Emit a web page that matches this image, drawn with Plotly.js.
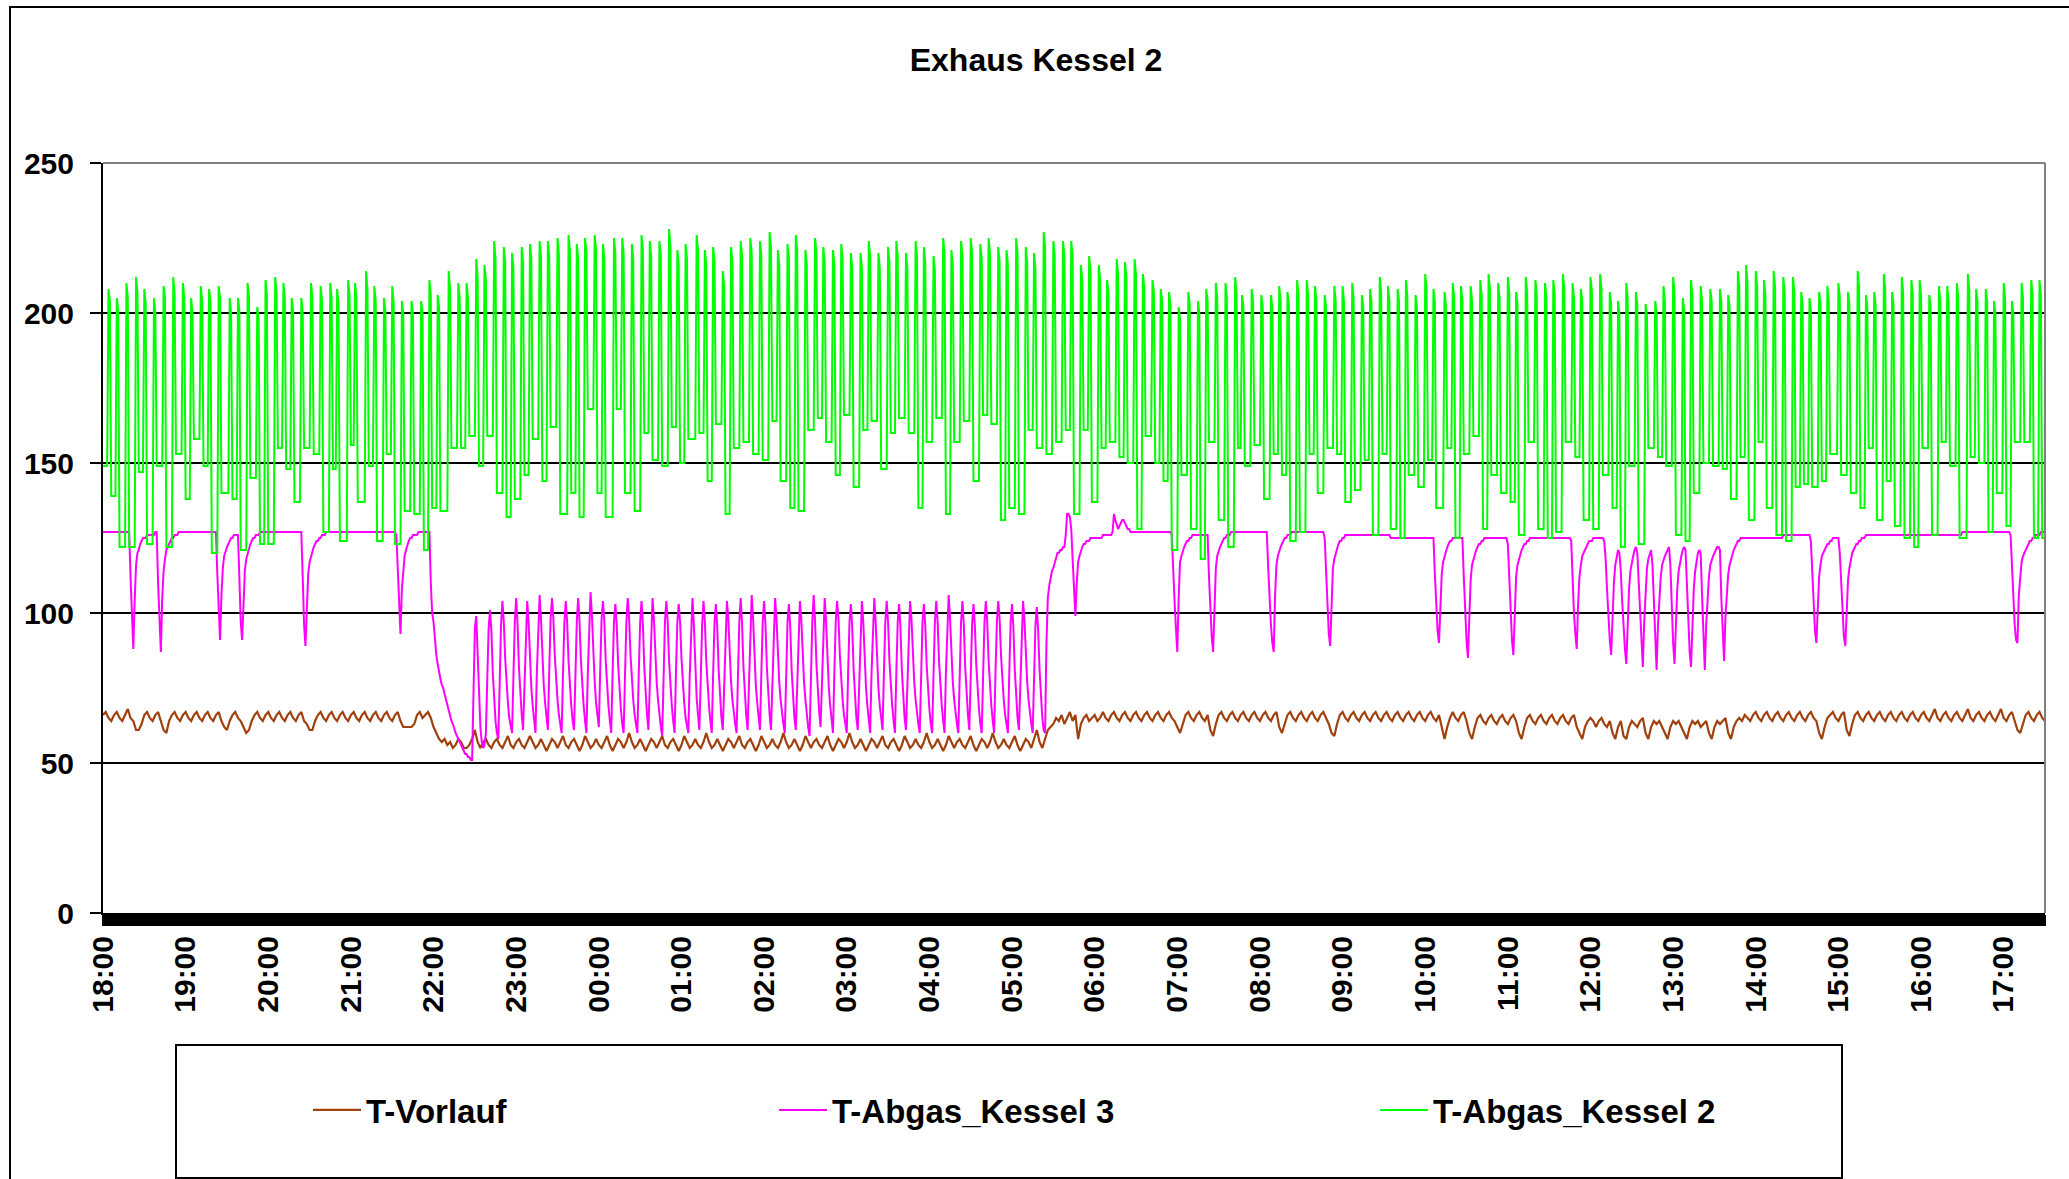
<!DOCTYPE html>
<html>
<head>
<meta charset="utf-8">
<script src="https://cdn.plot.ly/plotly-3.0.1.min.js"></script>
<style>html,body{margin:0;padding:0;background:#fff;}#chart{width:2069px;height:1179px;}</style>
</head>
<body>
<div id="chart"></div>
<script>
// ---------- DATA ----------
const seriesNames = ['T-Vorlauf', 'T-Abgas_Kessel 3', 'T-Abgas_Kessel 2'];
const hourLabels = ['18:00','19:00','20:00','21:00','22:00','23:00','00:00','01:00','02:00','03:00','04:00','05:00','06:00','07:00','08:00','09:00','10:00','11:00','12:00','13:00','14:00','15:00','16:00','17:00'];

// T-Abgas_Kessel 2 (green), one value per minute, blocks of 120 minutes
const g01 = [149,149,149,149,208,204,139,139,139,139,205,201,122,122,122,122,122,210,205,122,122,122,122,122,212,207,147,147,147,147,208,203,123,123,123,123,123,205,200,149,149,149,149,149,209,205,122,122,122,122,122,212,206,153,153,153,153,153,210,205,138,138,138,138,205,200,158,158,158,158,158,209,204,149,149,149,149,208,204,120,120,120,120,120,209,205,140,140,140,140,140,140,205,200,138,138,138,138,205,201,121,121,121,121,121,210,205,145,145,145,145,145,202,198,123,123,123,123,211,206];
const g02 = [123,123,123,123,123,212,207,155,155,155,155,210,205,148,148,148,148,205,201,137,137,137,137,137,205,200,155,155,155,155,155,210,205,153,153,153,153,153,209,204,127,127,127,127,127,210,205,148,148,148,208,203,124,124,124,124,124,124,211,206,156,156,156,210,205,137,137,137,137,137,137,214,208,149,149,149,149,209,204,124,124,124,124,124,205,201,153,153,153,153,209,204,123,123,123,123,123,204,200,134,134,134,134,134,204,200,133,133,133,133,133,204,200,121,121,121,121,211,206,135];
const g03 = [135,135,135,206,202,134,134,134,134,134,134,214,208,155,155,155,155,155,210,205,155,155,155,155,210,205,159,159,159,159,159,218,212,149,149,149,149,216,211,159,159,159,159,159,224,218,140,140,140,140,140,222,217,132,132,132,132,220,215,138,138,138,138,138,222,217,146,146,146,146,223,218,158,158,158,158,158,224,219,144,144,144,144,224,219,162,162,162,162,162,225,220,133,133,133,133,133,133,226,221,140,140,140,140,223,218,132,132,132,132,225,220,168,168,168,168,168,226,221,140];
const g04 = [140,140,140,223,218,132,132,132,132,132,132,225,220,168,168,168,168,225,220,140,140,140,140,140,223,218,134,134,134,134,134,226,221,160,160,160,160,224,219,151,151,151,151,151,224,219,149,149,149,149,149,228,222,162,162,162,162,221,216,150,150,150,150,223,218,158,158,158,158,158,158,226,221,160,160,160,160,221,216,144,144,144,144,222,217,163,163,163,163,163,214,209,133,133,133,133,222,217,155,155,155,155,155,224,219,157,157,157,157,157,225,220,153,153,153,153,153,224,219,151];
const g05 = [151,151,151,151,227,222,164,164,164,164,221,216,144,144,144,144,144,223,218,135,135,135,135,226,221,134,134,134,134,134,221,216,161,161,161,161,161,225,220,165,165,165,165,222,217,157,157,157,157,157,221,216,146,146,146,146,223,218,166,166,166,166,166,220,215,142,142,142,142,142,220,215,161,161,161,161,224,219,164,164,164,164,164,220,215,148,148,148,148,148,222,217,160,160,160,160,224,219,165,165,165,165,165,220,215,160,160,160,160,160,224,219,135,135,135,135,222,217,157,157];
const g06 = [157,157,157,219,214,165,165,165,165,165,225,220,133,133,133,133,221,216,157,157,157,157,157,224,219,164,164,164,164,164,225,220,144,144,144,144,144,223,218,166,166,166,166,225,220,163,163,163,163,163,222,217,131,131,131,131,221,216,135,135,135,135,135,225,220,133,133,133,133,133,222,217,161,161,161,161,220,215,155,155,155,155,155,227,222,153,153,153,153,153,224,219,157,157,157,157,157,224,219,161,161,161,161,224,219,133,133,133,133,133,216,211,161,161,161,161,219,214,137,137];
const g07 = [137,137,137,216,211,155,155,155,155,211,207,157,157,157,157,157,218,213,152,152,152,152,217,212,150,150,150,150,150,218,213,128,128,128,128,213,209,159,159,159,159,159,211,207,150,150,150,150,208,204,144,144,144,144,207,203,121,121,121,121,121,202,198,146,146,146,146,146,207,203,128,128,128,128,128,204,200,118,118,118,118,208,204,157,157,157,157,157,210,205,131,131,131,131,131,210,205,122,122,122,122,122,212,207,155,155,155,206,202,149,149,149,149,149,208,204,156,156,156,156];
const g08 = [156,206,202,138,138,138,138,138,206,202,153,153,153,153,209,204,146,146,146,146,207,203,124,124,124,124,124,211,206,127,127,127,127,127,211,206,153,153,153,153,209,204,140,140,140,140,140,206,202,155,155,155,155,155,209,204,153,153,153,153,209,204,137,137,137,137,137,210,205,141,141,141,141,141,206,202,151,151,151,151,208,204,126,126,126,126,126,212,207,153,153,153,153,209,204,128,128,128,128,128,208,204,125,125,125,125,211,206,146,146,146,146,146,206,202,142,142,142,142,142];
const g09 = [213,208,151,151,151,151,208,204,135,135,135,135,135,135,207,203,155,155,155,155,210,205,125,125,125,125,209,204,153,153,153,153,153,209,204,159,159,159,159,159,211,206,128,128,128,128,213,208,146,146,146,146,146,210,205,140,140,140,140,140,212,207,137,137,137,137,207,203,126,126,126,126,126,212,207,157,157,157,157,157,211,206,128,128,128,128,128,210,205,125,125,125,125,211,206,127,127,127,127,127,213,208,157,157,157,157,157,210,205,152,152,152,152,208,204,131,131,131,131,131];
const g10 = [212,207,128,128,128,128,128,213,208,146,146,146,146,146,207,203,135,135,135,135,204,200,122,122,122,122,210,205,149,149,149,149,149,207,203,123,123,123,123,123,203,199,155,155,155,155,155,204,200,152,152,152,152,209,204,149,149,149,149,149,212,207,126,126,126,126,126,205,201,124,124,124,124,211,206,140,140,140,140,140,209,204,150,150,150,150,150,208,204,149,149,149,149,149,208,204,148,148,148,148,206,202,138,138,138,138,138,214,209,152,152,152,152,216,210,131,131,131,131,131];
const g11 = [214,209,157,157,157,157,211,206,135,135,135,135,135,214,209,126,126,126,126,126,212,207,124,124,124,124,124,212,207,142,142,142,142,207,203,143,143,143,143,205,201,142,142,142,142,142,207,203,144,144,144,144,209,204,153,153,153,153,153,153,210,205,146,146,146,146,146,207,203,140,140,140,140,140,214,209,135,135,135,135,206,202,155,155,155,155,207,203,131,131,131,131,131,213,208,144,144,144,144,207,203,129,129,129,129,129,212,207,125,125,125,125,125,211,206,122,122,122,122,211];
const g12 = [206,155,155,155,155,155,206,202,126,126,126,126,126,209,204,157,157,157,157,209,204,149,149,149,149,149,210,205,125,125,125,125,125,125,213,208,152,152,152,152,208,204,150,150,150,150,150,208,204,127,127,127,127,204,200,140,140,140,140,140,210,205,129,129,129,129,204,200,157,157,157,157,157,210,205,157,157,157,157,157,211,206,125,125,125,125,211,206,125,125,125,125,190];

// T-Abgas_Kessel 3 (magenta), one value per minute, blocks of 120 minutes
const m01 = [127,127,127,127,127,127,127,127,127,127,127,127,127,127,127,127,127,127,127,127,112,96,88,104,116,120,121,123,124,125,125,125,126,126,126,126,126,126,127,127,110,95,87,105,114,118,121,122,123,124,125,125,126,126,126,127,127,127,127,127,127,127,127,127,127,127,127,127,127,127,127,127,127,127,127,127,127,127,127,127,127,127,127,113,98,91,106,115,119,121,122,123,124,125,125,126,126,126,126,112,97,91,105,114,118,120,122,123,124,125,125,126,126,126,127,127,127,127,127,127];
const m02 = [127,127,127,127,127,127,127,127,127,127,127,127,127,127,127,127,127,127,127,127,127,127,127,127,127,112,96,89,104,113,117,119,121,122,123,124,124,125,125,126,126,126,127,127,127,127,127,127,127,127,127,127,127,127,127,127,127,127,127,127,127,127,127,127,127,127,127,127,127,127,127,127,127,127,127,127,127,127,127,127,127,127,127,127,127,127,127,127,127,127,127,127,127,126,113,99,93,108,115,119,121,123,124,125,125,126,126,126,126,127,127,127,127,127,127,127,127,127,110,100];
const m03 = [97,90,86,83,80,78,76,75,73,71,69,67,66,64,63,61,60,59,58,57,56,55,54,53,53,52,52,51,51,75,95,99,88,72,62,57,55,56,60,78,95,101,94,80,70,64,60,58,76,96,104,97,85,76,70,65,62,60,79,97,105,96,82,72,66,61,78,96,104,97,84,75,69,64,60,80,97,106,98,85,76,70,65,61,81,98,105,98,86,77,71,66,63,60,80,97,104,97,84,75,69,64,61,79,97,105,97,84,75,69,64,60,80,98,107,99,86,77,70,65];
const m04 = [62,81,98,104,97,84,75,69,64,60,80,97,103,96,83,74,68,63,60,79,97,105,98,86,77,71,66,63,60,80,97,104,96,82,72,66,61,78,96,105,98,86,77,71,66,62,59,79,97,104,97,84,75,69,64,60,80,97,103,97,85,76,70,65,62,60,79,96,105,96,82,72,66,61,78,96,104,97,84,75,69,64,60,80,97,103,95,81,71,65,61,78,96,104,98,86,77,71,66,63,60,80,97,105,96,82,72,66,61,78,96,106,98,85,76,70,65,61,80,97];
const m05 = [104,96,82,72,66,61,78,96,105,98,86,77,71,66,63,60,80,97,103,95,81,71,65,61,78,96,104,98,86,77,71,66,62,59,79,97,106,97,83,73,67,62,79,97,105,97,84,75,69,64,60,80,97,104,98,86,77,71,66,63,60,80,97,103,95,81,71,65,61,78,96,104,97,84,75,69,64,60,80,97,105,97,84,75,69,64,61,80,97,104,97,84,75,69,64,60,80,97,103,95,81,71,65,61,78,96,104,98,86,77,71,66,63,60,80,97,103,96,83,74];
const m06 = [68,63,60,79,97,104,97,84,75,69,64,60,80,97,106,98,86,77,71,66,63,60,80,97,104,96,82,72,66,61,78,96,103,96,83,74,68,63,60,79,97,104,97,84,75,69,64,60,80,97,104,98,86,77,71,66,63,60,80,97,103,95,81,71,65,61,78,96,104,98,86,77,71,66,63,60,79,96,102,94,81,72,65,61,60,90,105,109,112,114,115,117,119,120,120,121,121,122,122,126,133,133,132,128,118,106,99,110,117,119,121,122,123,123,124,124,124,125,125,125];
const m07 = [125,125,125,125,125,125,126,126,126,126,126,126,126,127,133,131,129,128,129,130,131,131,130,129,128,128,127,127,127,127,127,127,127,127,127,127,127,127,127,127,127,127,127,127,127,127,127,127,127,127,127,127,127,127,127,127,126,112,104,95,87,105,117,119,121,122,123,124,124,125,125,126,126,126,126,126,126,126,126,126,126,126,126,112,100,92,87,104,115,119,121,122,123,124,125,125,126,126,126,127,127,127,127,127,127,127,127,127,127,127,127,127,127,127,127,127,127,127,127,127];
const m08 = [127,127,127,127,127,127,115,104,96,90,87,106,116,119,121,122,123,124,125,125,126,126,126,127,127,127,127,127,127,127,127,127,127,127,127,127,127,127,127,127,127,127,127,127,127,127,127,125,114,101,93,89,106,115,118,120,122,123,124,124,125,125,126,126,126,126,126,126,126,126,126,126,126,126,126,126,126,126,126,126,126,126,126,126,126,126,126,126,126,126,126,126,126,126,126,125,125,125,125,125,125,125,125,125,125,125,125,125,125,125,125,125,125,125,125,125,125,125,125,125];
const m09 = [125,125,125,125,125,125,125,113,102,94,90,104,113,117,119,121,122,123,124,124,125,125,125,125,125,125,125,125,112,100,91,85,100,111,116,118,120,121,122,123,123,124,124,125,125,125,125,125,125,125,125,125,125,125,125,125,125,125,125,125,123,110,99,91,86,102,112,116,118,120,121,122,123,123,124,124,125,125,125,125,125,125,125,125,125,125,125,125,125,125,125,125,125,125,125,125,125,125,125,125,125,125,125,125,125,125,124,111,100,93,88,103,112,116,119,120,121,122,123,124];
const m10 = [124,124,125,125,125,125,125,125,125,125,124,118,108,99,91,86,100,110,116,119,121,120,114,104,95,88,83,98,108,114,117,119,121,122,120,110,98,88,82,97,108,115,118,120,121,116,104,91,81,96,106,112,116,118,119,120,121,122,116,102,90,83,98,108,114,117,119,121,122,121,110,97,87,82,97,108,114,118,120,121,120,106,91,81,96,106,112,116,118,119,120,121,122,122,121,105,91,84,99,108,113,116,118,120,121,122,123,124,124,125,125,125,125,125,125,125,125,125,125,125];
const m11 = [125,125,125,125,125,125,125,125,125,125,125,125,125,125,125,125,125,125,125,125,126,126,126,126,126,126,126,126,126,126,126,126,126,126,126,126,126,126,126,126,124,113,102,94,90,104,112,116,119,120,121,122,123,123,124,124,125,125,125,125,125,120,109,99,92,89,103,111,115,118,120,121,122,123,123,124,124,125,125,125,126,126,126,126,126,126,126,126,126,126,126,126,126,126,126,126,126,126,126,126,126,126,126,126,126,126,126,126,126,126,126,126,126,126,126,126,126,126,126,126];
const m12 = [126,126,126,126,126,126,126,126,126,126,126,126,126,126,126,126,126,126,126,126,126,126,126,126,126,126,126,126,126,126,127,127,127,127,127,127,127,127,127,127,127,127,127,127,127,127,127,127,127,127,127,127,127,127,127,127,127,127,127,127,127,127,127,127,127,126,115,104,96,91,90,106,113,117,119,120,121,122,123,124,124,125,125,126,126,126,126,127,127,127,127,127,127];

// T-Vorlauf (brown), one value every 2 minutes, blocks of 120 minutes
const b01 = [66,67,65,64,66,67,65,64,66,68,65,64,61,61,63,66,67,65,64,66,67,64,61,60,64,66,67,65,64,66,67,65,64,66,67,65,64,66,67,65,64,66,67,64,62,61,64,66,67,65,64,62,60,61,64,66,67,65,64,66];
const b02 = [67,65,64,66,67,65,64,66,67,65,64,66,67,64,63,61,61,64,66,67,65,64,66,67,65,64,66,67,65,64,66,67,65,64,66,67,65,64,66,67,65,64,66,67,65,64,66,67,64,62,62,62,62,63,66,67,65,66,67,65];
const b03 = [62,60,58,57,58,56,57,55,56,58,57,55,55,56,58,61,57,55,57,58,56,55,57,58,56,55,57,59,56,55,57,58,56,55,57,59,57,55,56,58,56,54,56,58,57,55,57,59,56,55,57,58,56,54,56,59,57,55,56,58];
const b04 = [56,55,57,59,56,54,56,58,57,55,57,60,57,55,56,58,56,54,56,58,57,55,57,59,56,55,57,58,56,54,56,59,57,55,56,58,56,55,57,60,57,55,56,58,56,54,56,58,57,55,57,59,56,55,57,58,56,54,56,59];
const b05 = [57,55,56,58,56,55,57,60,57,55,56,58,56,54,56,59,57,55,57,58,56,55,57,59,56,54,56,58,57,55,57,60,57,55,56,58,56,54,56,58,57,55,57,59,56,55,57,58,56,54,56,59,57,55,56,58,56,55,57,60];
const b06 = [57,55,56,58,56,54,56,59,57,55,57,58,56,55,57,59,56,54,56,58,57,55,57,60,57,55,56,58,56,55,57,59,56,54,56,58,57,55,58,61,57,55,58,61,62,63,65,64,66,63,65,67,64,66,58,63,65,66,64,65];
const b07 = [66,64,65,67,65,64,66,67,65,64,66,67,65,64,66,67,65,64,66,67,65,64,66,67,65,64,66,67,65,64,62,60,63,66,67,65,64,66,67,65,64,66,61,59,63,66,67,65,64,66,67,65,64,66,67,65,64,66,67,65];
const b08 = [64,66,67,65,64,66,67,62,60,63,66,67,65,64,66,67,65,64,66,67,65,64,66,67,65,63,60,59,63,66,67,65,64,66,67,65,64,66,67,65,64,66,67,65,64,66,67,65,64,66,67,65,64,66,67,65,64,66,67,65];
const b09 = [64,66,67,65,64,66,62,58,62,65,67,65,64,66,67,64,60,58,62,65,66,64,63,65,66,64,63,65,66,64,63,65,66,64,60,58,62,65,66,64,63,65,66,64,63,65,66,64,63,65,66,64,63,65,66,62,60,58,62,64];
const b10 = [65,64,62,64,65,63,62,64,60,58,62,64,59,58,62,64,63,62,64,65,60,58,62,64,63,64,62,60,58,62,64,63,64,62,60,58,62,64,63,64,62,63,64,60,58,62,64,63,64,65,60,58,62,64,65,64,66,65,64,66];
const b11 = [67,65,64,66,67,65,64,66,67,65,64,66,67,65,64,66,67,65,64,66,67,65,64,60,58,62,65,66,67,65,64,66,67,61,59,63,66,67,65,64,66,67,65,64,66,67,65,64,66,67,65,64,66,67,65,64,66,67,65,64];
const b12 = [66,67,65,64,66,68,65,64,66,67,65,64,66,67,65,64,66,68,65,64,66,67,65,64,66,67,65,64,66,68,65,64,66,67,64,61,60,63,66,67,65,64,66,67,65,64,66];

const greenBlocks = [g01,g02,g03,g04,g05,g06,g07,g08,g09,g10,g11,g12];
const magentaBlocks = [m01,m02,m03,m04,m05,m06,m07,m08,m09,m10,m11,m12];
const brownBlocks = [b01,b02,b03,b04,b05,b06,b07,b08,b09,b10,b11,b12];
const blockMinutes = 120;
const lastMinute = 1410;   // right edge of the time axis (17:30)

// ---------- BUILD ----------
const T0 = Date.UTC(2000, 0, 1, 18, 0);
const MS = 60000;
function build(blocks, step) {
  const x = [], y = [];
  blocks.forEach((blk, k) => {
    const s = k * blockMinutes, e = (k + 1) * blockMinutes;
    blk.forEach((v, i) => {
      const m = s + i * step;
      if (k < blocks.length - 1 && m >= e) return;
      x.push(T0 + m * MS); y.push(v);
    });
  });
  return {x, y};
}
const B = build(brownBlocks, 2), M = build(magentaBlocks, 1), G = build(greenBlocks, 1);

const FONT = 'Liberation Sans, Arial, Helvetica, sans-serif';
const L = 103, R = 24, T = 163, Bm = 266, PW = 2069 - L - R, PH = 1179 - T - Bm;
const px = v => (v - L) / PW;
const py = v => (T + PH - v) / PH;

const traces = [
  {x: B.x, y: B.y, name: seriesNames[0], type: 'scatter', mode: 'lines', line: {color: '#A0400C', width: 2.2}, legend: 'legend'},
  {x: M.x, y: M.y, name: seriesNames[1], type: 'scatter', mode: 'lines', line: {color: '#FF00FF', width: 2}, legend: 'legend2'},
  {x: G.x, y: G.y, name: seriesNames[2], type: 'scatter', mode: 'lines', line: {color: '#00FF00', width: 2}, legend: 'legend3'}
];

const legendBase = {orientation: 'h', xref: 'paper', yref: 'paper', xanchor: 'left', yanchor: 'middle', y: py(1110),
  font: {family: FONT, size: 33, weight: 'bold', color: '#000'}, bgcolor: 'rgba(0,0,0,0)', borderwidth: 0, itemwidth: 48};

const layout = {
  width: 2069, height: 1179,
  margin: {l: L, r: R, t: T, b: Bm, pad: 0},
  paper_bgcolor: '#fff', plot_bgcolor: '#fff',
  showlegend: true,
  title: {text: 'Exhaus Kessel 2', font: {family: FONT, size: 32, weight: 'bold', color: '#000'},
          xref: 'container', x: 1036 / 2069, xanchor: 'center', yref: 'container', y: 1 - 60 / 1179, yanchor: 'middle'},
  xaxis: {
    type: 'date', range: [T0, T0 + lastMinute * MS], tick0: T0, dtick: 3600000, tickformat: '%H:%M',
    tickangle: -90, tickfont: {family: FONT, size: 30, weight: 'bold', color: '#000'},
    ticks: 'outside', ticklen: 11, tickwidth: 2, tickcolor: '#000', ticklabelstandoff: -2,
    showgrid: false, zeroline: false, showline: true, linecolor: '#000', linewidth: 2,
    minor: {dtick: MS, ticks: 'outside', ticklen: 11, tickwidth: 2, tickcolor: '#000', showgrid: false},
    fixedrange: true
  },
  yaxis: {
    range: [0, 250], tick0: 0, dtick: 50, tickfont: {family: FONT, size: 30, weight: 'bold', color: '#000'},
    ticks: 'outside', ticklen: 11, tickwidth: 2, tickcolor: '#000', ticklabelstandoff: 10,
    showgrid: true, gridcolor: '#000', gridwidth: 2, zeroline: false,
    showline: true, linecolor: '#000', linewidth: 2, fixedrange: true
  },
  legend: Object.assign({}, legendBase, {x: px(308)}),
  legend2: Object.assign({}, legendBase, {x: px(774)}),
  legend3: Object.assign({}, legendBase, {x: px(1375)}),
  shapes: [
    {type: 'line', xref: 'paper', yref: 'paper', x0: 0, x1: 1, y0: 1, y1: 1, line: {color: '#808080', width: 2}, layer: 'above'},
    {type: 'line', xref: 'paper', yref: 'paper', x0: 1, x1: 1, y0: 0, y1: 1, line: {color: '#808080', width: 2}, layer: 'above'},
    {type: 'rect', xref: 'paper', yref: 'paper', x0: px(176), x1: px(1842), y0: py(1178), y1: py(1045), line: {color: '#000', width: 2}, fillcolor: 'rgba(0,0,0,0)'},
    {type: 'rect', xref: 'paper', yref: 'paper', x0: px(10), x1: px(2100), y0: py(1200), y1: py(7), line: {color: '#000', width: 2}, fillcolor: 'rgba(0,0,0,0)'}
  ],
  hovermode: false
};

Plotly.newPlot('chart', traces, layout, {displayModeBar: false, staticPlot: true});
</script>
</body>
</html>
